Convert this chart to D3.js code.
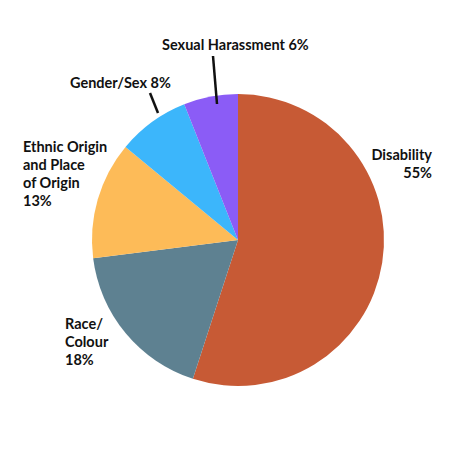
<!DOCTYPE html>
<html><head><meta charset="utf-8">
<script src="https://cdn.jsdelivr.net/npm/d3@7"></script>
<style>body{margin:0;background:#fff}</style>
</head><body>
<svg id="c" width="450" height="450"></svg>
<script>
const categories = ["Disability", "Race/Colour", "Ethnic Origin and Place of Origin", "Gender/Sex", "Sexual Harassment"];
const values = [55, 18, 13, 8, 6];
const colors = ["#c75a35", "#5e8191", "#fdbb58", "#3cb6fb", "#8b5cf6"];
// label lines, hand placed
const labelLines = [
  ["Disability", "55%"],
  ["Race/", "Colour", "18%"],
  ["Ethnic Origin", "and Place", "of Origin", "13%"],
  ["Gender/Sex 8%"],
  ["Sexual Harassment 6%"]
];
const labelPos = [[432, 160, "end"], [65, 329, "start"], [23, 152, "start"], [70, 88, "start"], [162, 50, "start"]];

const svg = d3.select("#c");
const g = svg.append("g").attr("transform", "translate(238,240)");
const pie = d3.pie().sort(null)(values);
const arc = d3.arc().innerRadius(0).outerRadius(146);
g.selectAll("path").data(pie).enter().append("path")
  .attr("d", arc).attr("fill", (d, i) => colors[i]);

// leader lines
svg.append("line").attr("x1", 150).attr("y1", 93).attr("x2", 158).attr("y2", 113).attr("stroke", "#111").attr("stroke-width", 2.5);
svg.append("line").attr("x1", 213).attr("y1", 56).attr("x2", 217).attr("y2", 104).attr("stroke", "#111").attr("stroke-width", 2.5);

labelLines.forEach((lines, i) => {
  const t = svg.append("text").attr("x", labelPos[i][0]).attr("y", labelPos[i][1])
    .attr("text-anchor", labelPos[i][2])
    .style("font-family", "Lato, 'Open Sans', sans-serif").style("font-weight", "bold")
    .style("font-size", "14.5px").attr("fill", "#111");
  lines.forEach((l, j) => t.append("tspan").attr("x", labelPos[i][0]).attr("dy", j ? 18 : 0).text(l));
});
</script>
</body></html>
